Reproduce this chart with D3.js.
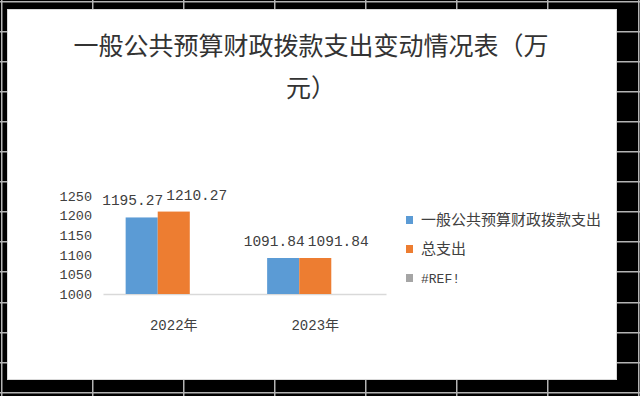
<!DOCTYPE html>
<html>
<head>
<meta charset="utf-8">
<script src="https://cdn.jsdelivr.net/npm/d3@7"></script>
<style>
  html, body { margin: 0; padding: 0; background: #000; }
  svg { display: block; }
</style>
</head>
<body>
<svg id="chart" width="640" height="396"></svg>
<script>
// ---- data ----
const titleLines = ["一般公共预算财政拨款支出变动情况表（万", "元）"];
const categories = ["2022年", "2023年"];
const seriesNames = ["一般公共预算财政拨款支出", "总支出", "#REF!"];
const seriesColors = ["#5B9BD5", "#ED7D31", "#A5A5A5"];
const generalBudget = [1195.27, 1091.84];
const totalSpend = [1210.27, 1091.84];
const refSeries = [null, null];
const yTicks = [1000, 1050, 1100, 1150, 1200, 1250];
const seriesValues = [generalBudget, totalSpend, refSeries];

const svg = d3.select("#chart");
const W = 640, H = 396;
const numFont = "'Liberation Mono', 'Noto Sans CJK SC', monospace";
const cjkFont = "'Noto Sans CJK SC', sans-serif";

// spreadsheet background: black cells with grey gridlines
const bg = svg.append("g");
bg.append("rect").attr("x", 0).attr("y", 0).attr("width", W).attr("height", H).attr("fill", "#000");
const colLines = [1, 92, 183, 274, 365, 456, 547, 638];
const rowLines = [1, 31, 61, 91, 121, 151, 181, 211, 241, 271, 302, 332, 362, 392];
colLines.forEach(d => {
  bg.append("rect").attr("x", d).attr("y", 0).attr("width", 1.5).attr("height", H).attr("fill", "#b4b4b4");
});
rowLines.forEach(d => {
  bg.append("rect").attr("x", 0).attr("y", d).attr("width", W).attr("height", 1.5).attr("fill", "#b4b4b4");
});

// chart panel
svg.append("rect").attr("x", 7.5).attr("y", 9.5).attr("width", 609).attr("height", 370)
  .attr("fill", "#fff").attr("stroke", "#d9d9d9").attr("stroke-width", 1);

// title
svg.append("g").selectAll("text").data(titleLines).join("text")
  .attr("x", 311).attr("y", (d, i) => 55 + i * 42)
  .attr("text-anchor", "middle")
  .attr("font-family", cjkFont).attr("font-size", 25)
  .attr("fill", "#333")
  .text(d => d);

// scales
const x0 = d3.scaleBand().domain(categories).range([103, 386]).paddingInner(0.32).paddingOuter(0.16);
const x1 = d3.scaleBand().domain(seriesNames).range([0, x0.bandwidth()]);
const y = d3.scaleLinear().domain([1000, 1250]).range([294, 196]);

// y axis labels (no line)
const yAxis = d3.axisLeft(y).tickValues(yTicks).tickSize(0).tickPadding(0).tickFormat(d3.format("d"));
const gy = svg.append("g").attr("transform", "translate(92,0)").call(yAxis);
gy.select(".domain").remove();
gy.selectAll("text").attr("font-family", numFont).attr("font-size", 13.5).attr("fill", "#404040");

// x axis
const xAxis = d3.axisBottom(x0).tickSize(0).tickPadding(0);
const gx = svg.append("g").attr("transform", "translate(0,294)").call(xAxis);
gx.select(".domain").attr("stroke", "#d9d9d9").attr("stroke-width", 1.5);
gx.selectAll("text").attr("font-family", numFont).attr("font-size", 14).attr("fill", "#404040")
  .attr("dy", "0").attr("y", 36);

// bars
const groups = svg.append("g").selectAll("g").data(categories).join("g")
  .attr("transform", d => `translate(${x0(d)},0)`);
groups.selectAll("rect")
  .data((c, ci) => seriesNames.map((s, si) => ({ s, si, v: seriesValues[si][ci] })).filter(d => d.v != null))
  .join("rect")
  .attr("x", d => x1(d.s))
  .attr("width", x1.bandwidth())
  .attr("y", d => y(d.v))
  .attr("height", d => y(1000) - y(d.v))
  .attr("fill", d => seriesColors[d.si]);

// data labels (pushed apart where they would overlap)
const labelShift = [-9, 23];
groups.selectAll("text.lbl")
  .data((c, ci) => seriesNames.map((s, si) => ({ s, si, v: seriesValues[si][ci] })).filter(d => d.v != null))
  .join("text").attr("class", "lbl")
  .attr("x", d => x1(d.s) + x1.bandwidth() / 2 + labelShift[d.si])
  .attr("y", d => y(d.v) - 12)
  .attr("text-anchor", "middle")
  .attr("font-family", numFont).attr("font-size", 14.5)
  .attr("fill", "#404040")
  .text(d => d3.format(".2f")(d.v));

// legend
const legend = svg.append("g").selectAll("g").data(seriesNames).join("g")
  .attr("transform", (d, i) => `translate(406,${220 + i * 29})`);
legend.append("rect").attr("x", 0).attr("y", -4).attr("width", 7).attr("height", 8)
  .attr("fill", (d, i) => seriesColors[i]);
legend.append("text").attr("x", 15).attr("y", 0).attr("dy", "0.36em")
  .attr("font-family", (d, i) => i === 2 ? numFont : cjkFont)
  .attr("font-size", (d, i) => i === 2 ? 13 : 15)
  .attr("fill", "#404040")
  .text(d => d);
</script>
</body>
</html>
